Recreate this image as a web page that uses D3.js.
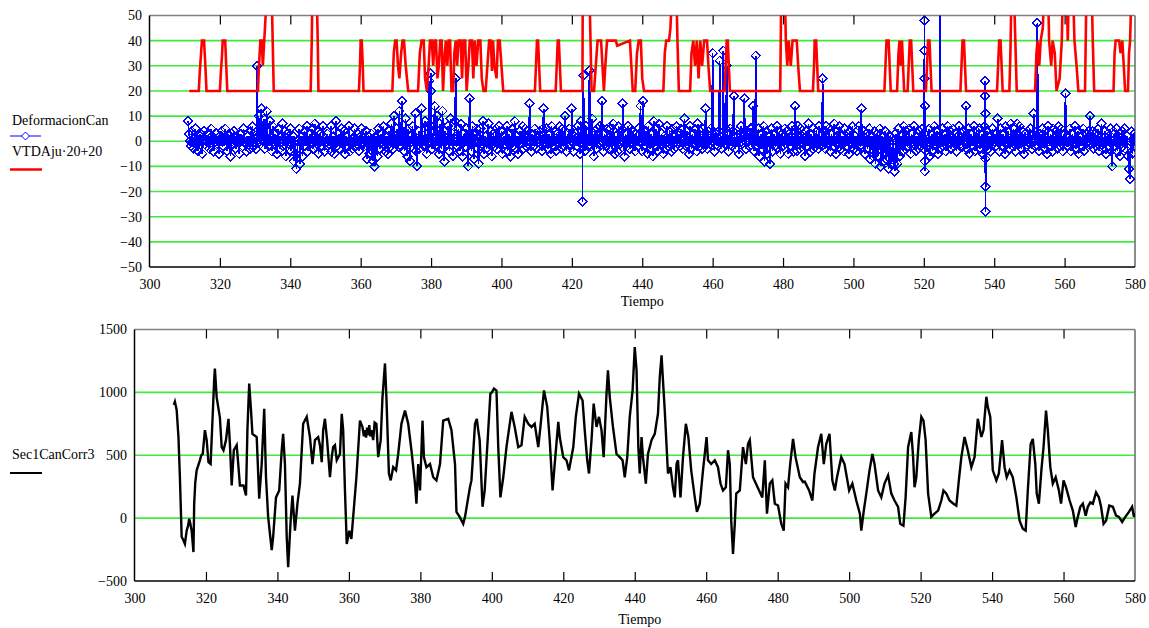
<!DOCTYPE html>
<html><head><meta charset="utf-8">
<script src="https://cdn.jsdelivr.net/npm/d3@7"></script>
<style>
body{margin:0;background:#fff}
svg{display:block}
text{font-family:"Liberation Serif","Times New Roman",serif;font-size:14px;fill:#000}
</style>
</head><body>
<svg id="chart" width="1149" height="628"></svg>
<script>
// ---------------- DATA ----------------
const xTickValues = [300,320,340,360,380,400,420,440,460,480,500,520,540,560,580];
const topYTicks = [-50,-40,-30,-20,-10,0,10,20,30,40,50];
const botYTicks = [-500,0,500,1000,1500];
const xTitle = "Tiempo";
const topLegend = ["DeformacionCan","VTDAju\u00B720+20"];
const botLegend = ["Sec1CanCorr3"];

// DeformacionCan sampled every 0.25 s starting at t = 311 (one row = 10 s)
const blueStart = 311, blueStep = 0.25;
const blueValues = [
 8,3,0,-2,4,0,-3,1,5,0,-1,-4,0,2,3,0,-5,0,4,1,0,-2,0,3,-3,0,5,2,0,-4,1,0,3,-1,0,-5,2,0,4,0,
 -2,0,5,1,-4,0,2,0,-6,3,0,-1,4,0,-3,2,0,1,-5,0,3,0,-2,5,0,-1,-4,0,2,0,-3,4,0,6,-2,0,1,-3,0,2,
 10,0,4,13,2,0,9,-3,0,12,4,0,-2,8,0,-4,6,0,-1,3,0,-5,5,0,-3,2,0,7,-2,0,4,-6,0,3,-1,0,5,-4,0,2,
 -8,0,-5,-11,-3,0,5,-9,0,2,-6,0,4,-2,0,6,-4,0,3,-1,0,5,-3,0,7,-2,0,4,-5,0,3,0,-2,6,0,-4,1,0,3,-2,
 -1,0,6,-4,0,2,-5,0,8,-2,0,3,-3,0,5,-1,0,4,-5,0,2,-2,0,6,-4,0,1,-3,0,5,0,-2,3,0,-4,0,2,5,0,-1,
 -2,0,4,-7,0,2,-5,0,3,-4,-8,0,-10,2,0,-6,5,0,-3,3,0,-1,6,0,-4,2,0,-5,4,0,-2,7,0,-3,10,0,-1,5,0,-2,
 12,0,-2,16,3,0,-4,9,0,-6,5,0,-8,2,0,6,-3,0,11,-4,-10,0,4,-3,0,13,1,0,-2,8,0,-5,6,0,24,0,6,-3,0,4,
 14,0,-2,10,0,-5,7,0,-3,12,0,-8,4,0,-1,6,0,-4,9,0,3,-6,0,8,25,0,-2,5,0,-4,7,0,-6,3,0,-2,5,0,-10,3,
 17,0,-4,6,0,-7,3,0,5,-3,-9,0,5,-2,0,8,-5,0,2,-3,0,7,-1,0,4,-6,0,3,-2,0,5,-3,0,6,-1,0,4,-5,0,2,
 -1,0,6,-4,0,3,-6,0,5,-2,0,8,-3,0,2,-5,0,4,-1,0,6,-3,0,5,-2,0,4,0,15,0,-4,3,0,-2,5,0,-3,2,0,4,
 2,0,-4,5,13,0,-1,5,0,-3,3,0,-5,6,0,-2,4,0,-4,3,0,-1,6,0,-3,5,0,-2,10,0,-4,3,0,5,-1,0,13,0,-4,2,
 3,0,-2,6,0,-5,8,0,-1,5,0,-4,6,0,-2,4,28,0,-2,9,0,-6,4,0,-3,5,0,-1,6,0,16,0,-4,3,0,-2,5,0,-3,2,
 5,0,-3,7,0,-5,2,0,-4,6,0,-1,4,0,15,0,-6,3,0,-2,6,0,-3,5,0,-1,4,0,-4,3,0,-2,5,0,14,0,-4,16,0,-2,
 4,0,-5,6,0,-3,3,0,-6,8,0,-2,5,0,-4,7,0,-1,3,0,-5,2,0,-3,6,0,-2,4,0,-4,5,0,-3,2,0,6,-1,0,3,-2,
 5,0,-3,2,9,0,-2,4,0,-5,6,0,-3,3,0,-1,5,0,-4,7,0,-2,4,0,-3,5,0,-1,13,0,-3,4,0,-1,5,0,35,0,-4,3,
 3,0,-2,4,32,0,-3,2,36,0,-1,5,30,0,-4,3,5,0,-2,4,18,0,-3,2,4,0,-5,3,6,0,-1,2,17,0,-3,4,3,0,-2,5,
 5,0,14,-4,0,34,-2,0,5,-6,0,3,-3,0,6,-8,0,4,-5,0,2,-9,0,5,-4,0,3,-2,0,6,-3,0,4,-5,0,3,-2,0,5,-1,
 4,0,-5,3,0,-2,6,0,-4,3,14,0,-4,6,0,-3,5,0,-1,3,0,-6,4,0,-2,7,0,-4,3,0,-3,5,0,-2,4,0,-3,6,0,-1,
 -2,25,0,4,-3,6,0,-1,5,0,-4,3,0,-2,7,0,-5,4,0,-1,6,0,-3,2,0,-4,5,0,-2,3,0,-5,4,0,-1,6,0,-3,2,0,
 -4,0,6,-2,0,13,-2,0,4,-5,0,3,-3,0,5,-7,0,2,-6,0,4,-9,0,3,-6,0,5,-10,0,2,-8,0,4,-7,0,3,-11,0,2,-9,
 -6,0,-9,-12,3,0,-9,5,0,-6,2,0,-4,6,0,-3,4,0,-2,5,0,-5,3,0,-1,6,0,-4,2,0,-3,4,0,-2,5,0,-3,3,0,-1,
 -2,0,5,-6,0,3,-4,0,6,-1,0,4,-5,0,2,-3,0,5,-2,0,3,-4,0,6,-1,0,4,-3,0,5,-2,0,3,-4,0,2,6,0,-1,3,
 -2,0,4,0,14,-3,0,5,-5,0,3,-2,0,6,-4,0,4,-1,0,5,-3,0,3,-5,0,6,-2,0,4,-3,0,2,-4,0,5,-1,0,3,-2,0,
 9,0,-4,5,0,-2,3,0,-5,6,0,-1,4,0,-3,7,0,-2,5,0,-4,3,7,0,-1,6,0,-3,4,0,-5,3,0,-2,4,0,-1,5,0,-3,
 3,11,0,-2,4,47,0,-4,3,0,-1,5,0,-3,4,0,-5,6,0,-2,3,0,-4,5,0,-1,4,0,-3,6,0,-2,5,0,-4,3,0,19,0,-2,
 -2,0,5,-4,0,3,-1,0,6,-3,0,4,-5,0,2,-2,0,5,-4,0,3,-1,0,4,0,10,-1,0,4,-3,0,3,-2,0,5,-4,0,2,7,0,
 -3,0,4,-5,0,3,-2,0,5,-4,-10,0,3,-2,0,5,-4,0,3,-6,0,4,-2,0,5,-3,0,2,-6,-11,-15,0,4,-5,0,3,-2,0,2,0
];
// isolated samples between the regular ones [t, value]
const blueSpikes = [
 [330.6,30],[379.9,27],[380.0,20],
 [423.0,60],[423.05,-24],[423.1,2],[423.3,26],
 [520.2,48],[520.22,36],[520.24,25],[520.26,14],[520.3,-8],[520.32,-12],
 [524.6,65],
 [537.4,24],[537.42,18],[537.44,11],[537.46,-7],[537.48,-18],[537.5,-28]
];

// VTDAju·20+20 [t, value]
const redSeries = [
 [311.3,20],[314.0,20],[314.3,28],[314.6,34],[314.9,40],[315.5,40],[315.8,32],[316.2,20],
 [320.0,20],[320.3,28],[320.6,34],[320.8,40],[321.5,40],[321.8,30],[322.1,20],
 [330.8,20],[331.1,30],[331.5,40],[331.9,40],[332.2,30],[332.6,40],[333.0,50],[333.2,60],[334.7,60],[335.0,40],[335.3,20],
 [345.8,20],[346.1,40],[346.3,60],[347.5,60],[347.8,40],[348.0,20],
 [359.5,20],[359.8,30],[360.0,40],[360.3,40],[360.6,30],[360.8,20],
 [369.0,20],[369.4,35],[369.8,40],[370.2,40],[370.6,30],[371.0,25],[371.5,35],[371.9,40],[372.3,40],[372.8,30],[373.5,20],
 [376.3,20],[376.8,35],[377.3,40],[377.9,40],[378.3,25],[378.8,20],[379.3,30],[379.7,40],[380.2,40],[380.6,30],[381.0,40],[381.4,40],[381.8,25],[382.2,30],[382.6,40],[383.0,40],[383.4,20],[383.9,35],[384.2,40],[384.6,30],[385.0,40],[385.4,40],[385.8,20],[386.3,20],[386.6,35],[387.0,40],[387.4,30],[387.8,40],[388.4,40],[388.8,25],[389.2,40],[389.7,40],[390.1,20],[390.6,30],[391.0,40],[391.6,40],[392.0,25],[392.4,40],[392.9,30],[393.4,40],[394.0,40],[394.4,25],[394.9,20],[395.5,20],[396.0,30],[396.5,40],[397.0,40],[397.3,28],[397.6,40],[398.0,30],[398.6,25],[399.0,40],[399.5,40],[400.0,30],[400.5,20],
 [409.5,20],[409.8,30],[410.1,40],[410.4,40],[410.7,30],[411.0,20],
 [415.4,20],[415.7,30],[416.0,40],[416.3,40],[416.6,30],[416.9,20],
 [423.0,20],[423.1,60],[425.0,60],[425.3,40],[425.6,20],[426.3,20],[426.8,30],[427.3,40],[428.3,40],[428.7,30],[429.1,20],[429.5,30],[430.0,40],[432.5,40],[432.9,38],[436.5,40],[436.9,30],[437.3,20],[438.0,20],[438.5,35],[439.0,40],[439.6,40],[440.0,25],[440.5,20],
 [446.0,20],[446.4,35],[446.8,40],[447.6,40],[448.0,45],[448.5,60],[449.7,60],[450.0,40],[450.4,20],
 [453.6,20],[454.0,35],[454.5,40],[455.0,30],[455.5,40],[456.0,25],[456.5,40],[457.0,30],[457.6,40],[458.4,40],[458.8,30],[459.3,20],
 [463.4,20],[463.7,30],[464.0,40],[464.3,40],[464.6,30],[464.9,20],
 [479.2,20],[479.5,60],[480.5,60],[480.8,40],[481.2,30],[481.6,40],[482.2,30],[482.7,40],[483.9,40],[484.3,30],[484.8,20],
 [488.5,20],[488.8,30],[489.0,40],[489.4,40],[489.7,30],[490.0,20],
 [508.8,20],[509.1,30],[509.4,40],[510.0,40],[510.3,30],[510.6,20],
 [512.4,20],[512.8,35],[513.1,40],[513.4,30],[513.8,40],[514.1,30],[514.4,20],
 [515.4,20],[515.7,30],[516.0,40],[516.4,40],[516.7,30],[517.0,20],
 [520.6,20],[520.9,30],[521.2,40],[521.6,40],[521.9,30],[522.2,20],
 [530.4,20],[530.7,30],[531.0,40],[531.4,40],[531.7,30],[532.0,20],
 [540.8,20],[541.1,30],[541.4,40],[541.8,40],[542.1,30],[542.4,20],
 [544.3,20],[544.6,35],[544.9,60],[545.6,60],[546.0,40],[546.4,20],
 [551.6,20],[552.0,35],[552.3,40],[552.8,30],[553.2,40],[553.8,45],[554.2,60],[555.3,60],[555.6,40],[556.2,30],[556.6,40],[557.2,35],[557.7,20],[558.6,25],[559.2,40],[559.5,60],[560.6,60],[560.9,40],[561.2,60],[562.4,60],[562.8,40],[563.4,30],[563.9,20],
 [565.8,20],[566.0,40],[566.2,60],[567.7,60],[568.0,40],[568.4,20],
 [573.9,20],[574.2,35],[574.5,40],[575.5,40],[575.9,35],[576.4,40],[576.8,30],[577.2,20],
 [578.0,20],[578.3,35],[578.6,40],[579.0,60],[580.0,60]
];

// Sec1CanCorr3 [t, value]
const blackSeries = [
 [311.0,900],[311.3,925],[311.8,860],[312.3,645],[312.7,330],[313.2,-150],[313.6,-170],[314.1,-205],[314.6,-100],[315.0,-60],[315.3,-5],[315.6,-40],[316.0,-100],[316.5,-270],[316.7,110],[317.0,280],[317.4,380],[318.3,460],[318.7,500],[319.1,510],[319.7,700],[320.2,620],[320.7,445],[321.3,430],[321.9,830],[322.3,1100],[322.5,1190],[322.8,1050],[323.0,960],[323.9,800],[324.4,565],[324.9,540],[325.6,620],[326.3,790],[326.7,590],[327.2,260],[327.8,540],[328.6,580],[329.1,405],[329.5,260],[330.5,260],[331.2,180],[331.6,700],[332.1,1070],[332.6,860],[333.0,670],[334.2,645],[334.9,155],[335.6,430],[336.3,870],[336.8,325],[337.4,10],[338.4,-255],[338.8,-150],[339.6,165],[340.5,220],[341.2,540],[341.6,670],[342.1,430],[342.6,-150],[343.0,-390],[343.7,-20],[344.2,180],[344.9,-100],[345.6,115],[346.3,275],[347.2,750],[348.2,805],[349.1,645],[349.8,430],[350.5,620],[351.4,645],[351.9,580],[352.4,445],[352.8,700],[353.3,790],[353.9,620],[354.7,325],[355.2,485],[355.6,565],[356.1,580],[356.6,460],[357.5,510],[358.0,830],[358.4,700],[358.9,220],[359.4,-205],[360.1,-100],[360.7,-165],[361.2,10],[362.1,325],[363.1,775],[363.8,725],[364.2,650],[364.5,700],[364.8,640],[365.1,720],[365.4,660],[365.7,740],[366.0,650],[366.3,700],[366.8,620],[367.2,760],[367.7,750],[368.2,485],[368.9,620],[369.4,960],[370.1,1230],[370.5,960],[371.2,355],[371.7,300],[372.4,405],[373.2,380],[373.8,510],[374.7,750],[375.7,855],[376.6,750],[377.5,540],[378.5,275],[378.9,115],[379.4,430],[379.9,220],[380.6,775],[381.0,485],[381.7,405],[382.7,430],[383.6,325],[384.5,300],[385.5,430],[386.4,775],[387.8,790],[388.7,700],[389.7,430],[390.1,50],[391.0,10],[392.0,-45],[392.5,10],[393.4,165],[393.9,250],[394.3,300],[395.3,750],[395.8,790],[396.2,700],[396.6,620],[397.4,90],[398.0,220],[399.0,700],[399.6,990],[400.0,1000],[400.6,1030],[401.3,1015],[401.8,565],[402.4,165],[403.2,325],[404.1,565],[405.5,845],[406.4,725],[407.4,565],[408.3,580],[409.2,805],[410.2,750],[411.1,725],[412.0,750],[413.0,565],[413.6,725],[414.6,1015],[415.5,885],[416.2,620],[417.0,220],[417.6,430],[418.6,765],[419.0,645],[420.0,485],[420.9,460],[421.6,380],[422.8,565],[423.5,805],[424.4,990],[425.4,935],[426.0,700],[426.7,460],[427.2,355],[427.9,620],[428.5,910],[429.3,725],[430.0,805],[430.7,700],[431.3,485],[432.1,990],[432.5,1175],[433.0,965],[433.9,725],[434.9,510],[435.8,485],[436.6,460],[437.2,325],[437.9,485],[438.6,805],[439.4,1015],[440.0,1360],[440.5,1175],[441.0,565],[441.4,355],[441.9,645],[442.3,485],[443.1,275],[443.7,510],[444.7,620],[445.6,670],[446.5,830],[447.0,1120],[447.5,1295],[447.9,1095],[448.4,855],[449.3,355],[450.0,405],[450.7,245],[451.2,165],[451.7,430],[452.1,460],[452.8,165],[453.5,485],[454.3,750],[455.0,645],[455.8,380],[456.8,165],[457.4,50],[458.2,115],[459.1,380],[460.1,645],[460.5,460],[461.4,430],[462.4,460],[463.3,405],[464.0,275],[464.7,220],[465.5,245],[466.1,540],[466.6,430],[467.0,-20],[467.5,-285],[468.0,-45],[468.4,195],[469.4,220],[470.3,565],[471.1,430],[471.7,590],[472.2,620],[472.6,485],[473.1,325],[473.9,275],[474.8,220],[475.7,165],[476.4,460],[477.0,35],[477.8,275],[478.5,300],[479.2,115],[480.1,100],[481.0,-45],[481.7,-100],[482.2,275],[482.9,245],[483.5,430],[484.3,630],[485.0,485],[486.2,325],[487.1,287],[487.6,290],[488.8,220],[489.7,140],[490.3,355],[491.3,565],[492.2,670],[492.9,430],[493.6,590],[494.5,670],[495.3,300],[496.0,220],[496.6,325],[497.8,485],[498.7,430],[500.0,220],[500.9,275],[502.0,140],[503.0,35],[503.4,-100],[504.1,60],[504.8,195],[505.7,380],[506.5,510],[507.1,430],[508.1,220],[509.0,165],[509.9,275],[510.9,340],[511.8,195],[512.7,140],[513.7,90],[514.3,-45],[515.2,-60],[515.8,165],[516.5,565],[517.4,685],[517.9,485],[518.3,245],[518.8,325],[519.5,620],[520.2,805],[520.8,775],[521.4,620],[522.1,195],[523.0,10],[523.9,35],[524.9,60],[525.8,140],[526.4,220],[527.2,195],[528.1,140],[529.2,115],[530.0,100],[530.7,300],[531.4,485],[532.3,645],[533.2,540],[534.2,405],[535.1,485],[536.0,790],[537.0,645],[537.6,700],[538.4,965],[538.8,885],[539.5,805],[540.2,380],[541.2,300],[541.9,355],[542.8,620],[543.5,405],[544.1,325],[544.9,380],[545.8,325],[546.8,165],[547.7,-20],[548.6,-85],[549.4,-100],[550.0,220],[550.8,590],[551.4,630],[552.1,430],[552.5,195],[553.1,115],[553.8,380],[554.4,565],[555.1,855],[555.6,700],[556.3,405],[557.0,275],[557.8,325],[558.7,220],[559.3,115],[560.0,300],[560.7,245],[561.7,140],[562.6,60],[563.4,-70],[564.0,10],[564.7,90],[565.4,115],[566.2,20],[566.8,90],[567.5,125],[568.2,115],[569.1,205],[569.9,165],[570.5,90],[571.2,-45],[571.9,-20],[572.8,100],[573.8,90],[574.7,20],[575.5,10],[576.4,-30],[577.3,10],[578.3,50],[579.2,90],[579.7,10],[580.0,40]
];

// ---------------- DRAW ----------------
const svg = d3.select("#chart");
const GRID = "#3dea3d", BLUE = "#0000ff", RED = "#ff0000", FRAME = "#808080";

function panel(opts){
  const {x, y, yTicks, id} = opts;
  const [x0, x1] = x.range();
  const [yb, yt] = y.range();
  const g = svg.append("g");
  g.append("clipPath").attr("id", id).append("rect")
    .attr("x", x0).attr("y", yt).attr("width", x1 - x0).attr("height", yb - yt);
  g.append("g").selectAll("line").data(yTicks.slice(1, -1)).join("line")
    .attr("x1", x0).attr("x2", x1).attr("y1", d => y(d)).attr("y2", d => y(d))
    .attr("stroke", GRID).attr("stroke-width", 1.6);
  g.append("line").attr("x1", x0).attr("x2", x1).attr("y1", yt).attr("y2", yt).attr("stroke", FRAME).attr("stroke-width", 1.5);
  g.append("line").attr("x1", x1).attr("x2", x1).attr("y1", yt).attr("y2", yb).attr("stroke", FRAME).attr("stroke-width", 1.8);
  const ax = g.append("g").attr("transform", `translate(0,${yb})`)
    .call(d3.axisBottom(x).tickValues(xTickValues).tickSizeInner(-9).tickSizeOuter(0).tickPadding(12).tickFormat(d3.format("d")));
  ax.select(".domain").remove();
  ax.selectAll(".tick line").attr("stroke", "#000").attr("stroke-width", 1.2)
    .attr("display", d => (d === xTickValues[0] || d === xTickValues[xTickValues.length-1]) ? "none" : null);
  ax.selectAll(".tick text").attr("font-size", 14).attr("font-family", "Liberation Serif, serif").attr("fill", "#000");
  const axT = g.append("g").attr("transform", `translate(0,${yt})`)
    .call(d3.axisTop(x).tickValues(xTickValues.slice(1, -1)).tickSizeInner(-9).tickSizeOuter(0).tickFormat(""));
  axT.select(".domain").remove();
  axT.selectAll(".tick line").attr("stroke", "#000").attr("stroke-width", 1.2);
  const ay = g.append("g").attr("transform", `translate(${x0},0)`)
    .call(d3.axisLeft(y).tickValues(yTicks).tickSize(0).tickPadding(7.5).tickFormat(d3.format("d")));
  ay.select(".domain").remove();
  ay.selectAll(".tick text").attr("font-size", 14).attr("font-family", "Liberation Serif, serif").attr("fill", "#000")
    .text(d => d < 0 ? "\u2212" + Math.abs(d) : d);
  g.append("line").attr("x1", x0).attr("x2", x0).attr("y1", yt).attr("y2", yb).attr("stroke", "#000").attr("stroke-width", 1.5);
  g.append("line").attr("x1", x0).attr("x2", x1).attr("y1", yb).attr("y2", yb).attr("stroke", "#000").attr("stroke-width", 1.5);
  return g;
}

// Top panel
const xTop = d3.scaleLinear().domain([300, 580]).range([149.5, 1135]);
const yTop = d3.scaleLinear().domain([-50, 50]).range([267, 15.5]);
const gTop = panel({x: xTop, y: yTop, yTicks: topYTicks, id: "clipTop"});

const bluePts = blueValues.map((v, i) => [blueStart + i * blueStep, v])
  .concat(blueSpikes).sort((a, b) => a[0] - b[0]);

const plotTop = gTop.append("g").attr("clip-path", "url(#clipTop)");
const lineTop = d3.line().x(d => xTop(d[0])).y(d => yTop(d[1]));
plotTop.append("path").datum(bluePts).attr("d", lineTop)
  .attr("fill", "none").attr("stroke", BLUE).attr("stroke-width", 1.6).attr("shape-rendering", "crispEdges");
const diamond = "M0,-4.5L4.5,0L0,4.5L-4.5,0Z";
plotTop.append("g").selectAll("path").data(bluePts).join("path")
  .attr("d", diamond).attr("transform", d => `translate(${xTop(d[0])},${yTop(d[1])})`)
  .attr("fill", "none").attr("stroke", BLUE).attr("stroke-width", 1.3).attr("shape-rendering", "crispEdges");
plotTop.append("path").datum(redSeries).attr("d", lineTop)
  .attr("fill", "none").attr("stroke", RED).attr("stroke-width", 2.6).attr("stroke-linejoin", "miter");

svg.append("text").attr("x", (xTop.range()[0] + xTop.range()[1]) / 2).attr("y", 306)
  .attr("text-anchor", "middle").text(xTitle);

// Top legend
svg.append("text").attr("x", 12).attr("y", 125).text(topLegend[0]);
svg.append("line").attr("x1", 10).attr("x2", 41).attr("y1", 136).attr("y2", 136).attr("stroke", BLUE).attr("stroke-width", 1);
svg.append("path").attr("d", "M0,-4L4,0L0,4L-4,0Z").attr("transform", "translate(25.5,136)").attr("fill", "#fff").attr("stroke", BLUE);
svg.append("text").attr("x", 12).attr("y", 156).text(topLegend[1]);
svg.append("line").attr("x1", 10).attr("x2", 42).attr("y1", 169.5).attr("y2", 169.5).attr("stroke", RED).attr("stroke-width", 2.5);

// Bottom panel
const xBot = d3.scaleLinear().domain([300, 580]).range([134.5, 1135]);
const yBot = d3.scaleLinear().domain([-500, 1500]).range([581, 329.5]);
const gBot = panel({x: xBot, y: yBot, yTicks: botYTicks, id: "clipBot"});
const lineBot = d3.line().x(d => xBot(d[0])).y(d => yBot(d[1]));
gBot.append("g").attr("clip-path", "url(#clipBot)").append("path").datum(blackSeries).attr("d", lineBot)
  .attr("fill", "none").attr("stroke", "#000").attr("stroke-width", 2.4).attr("stroke-linejoin", "miter");
svg.append("text").attr("x", (xBot.range()[0] + xBot.range()[1]) / 2 + 5).attr("y", 624)
  .attr("text-anchor", "middle").text(xTitle);

svg.append("text").attr("x", 12).attr("y", 459).text(botLegend[0]);
svg.append("line").attr("x1", 10).attr("x2", 42).attr("y1", 473).attr("y2", 473).attr("stroke", "#000").attr("stroke-width", 2);
</script>
</body></html>
